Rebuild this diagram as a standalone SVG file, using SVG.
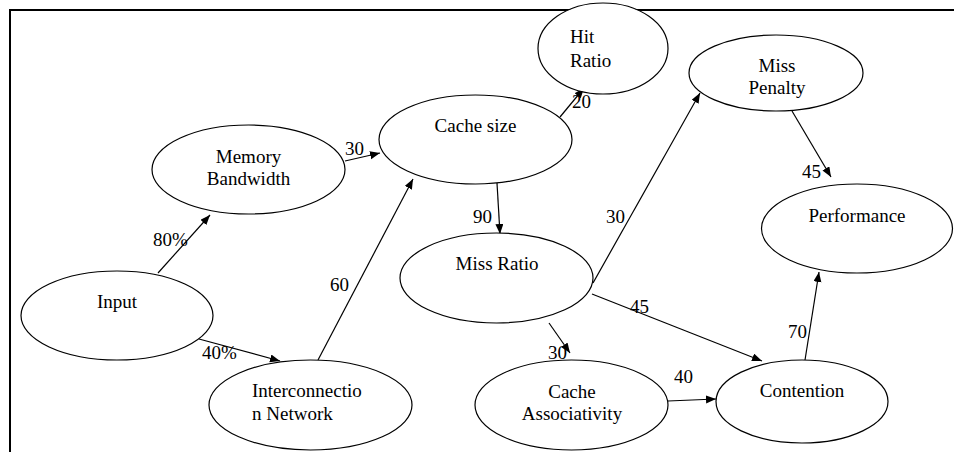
<svg xmlns="http://www.w3.org/2000/svg" width="954" height="452" viewBox="0 0 954 452">
<style>
.n ellipse{fill:#fff;stroke:#000;stroke-width:1.2}
text{font-family:"Liberation Serif","Times New Roman",serif;font-size:19px;fill:#000}
.c{text-anchor:middle}
#edges line{stroke:#000;stroke-width:1.2;marker-end:url(#ah)}
</style>
<defs>
<marker id="ah" markerUnits="userSpaceOnUse" markerWidth="11" markerHeight="9" refX="10" refY="4" orient="auto">
<path d="M0,0 L10,4 L0,8 z" fill="#000"/>
</marker>
</defs>
<rect width="954" height="452" fill="#fff"/>
<path d="M10,452 V10 H954" fill="none" stroke="#000" stroke-width="2"/>
<g id="edges">
<line x1="158" y1="273" x2="210" y2="215"/>
<line x1="199" y1="339" x2="280" y2="361"/>
<line x1="318" y1="360" x2="413" y2="179"/>
<line x1="345" y1="161" x2="380" y2="153"/>
<line x1="560" y1="117" x2="584" y2="88"/>
<line x1="497" y1="183" x2="500" y2="234"/>
<line x1="593" y1="283" x2="700" y2="93"/>
<line x1="792" y1="111" x2="831" y2="177"/>
<line x1="592" y1="294" x2="762" y2="361"/>
<line x1="549" y1="323" x2="570" y2="353"/>
<line x1="668" y1="401" x2="716" y2="399"/>
<line x1="805" y1="360" x2="819" y2="272"/>
<text x="153" y="246">80%</text>
<text x="202" y="359">40%</text>
<text x="330" y="291">60</text>
<text x="345" y="155">30</text>
<text x="572" y="108">20</text>
<text x="473" y="223">90</text>
<text x="606" y="223">30</text>
<text x="802" y="178">45</text>
<text x="630" y="313">45</text>
<text x="548" y="359">30</text>
<text x="674" y="383">40</text>
<text x="788" y="338">70</text>
</g>
<g id="memory-bandwidth" class="n"><ellipse cx="248.5" cy="169.5" rx="96.5" ry="44.5"/><text class="c" x="248.5" y="163">Memory</text><text class="c" x="248.5" y="185">Bandwidth</text></g>
<g id="cache-size" class="n"><ellipse cx="475.5" cy="139.5" rx="96.5" ry="44.5"/><text class="c" x="475.5" y="132">Cache size</text></g>
<g id="hit-ratio" class="n"><ellipse cx="603" cy="48.5" rx="65" ry="45.5"/><text x="570" y="43">Hit</text><text x="570" y="67">Ratio</text></g>
<g id="miss-penalty" class="n"><ellipse cx="776" cy="73" rx="87" ry="38"/><text class="c" x="777" y="72">Miss</text><text class="c" x="777" y="94">Penalty</text></g>
<g id="performance" class="n"><ellipse cx="857" cy="228.5" rx="95.5" ry="44.5"/><text class="c" x="857" y="222">Performance</text></g>
<g id="miss-ratio" class="n"><ellipse cx="496.5" cy="278" rx="96.5" ry="45"/><text class="c" x="497" y="270">Miss Ratio</text></g>
<g id="input" class="n"><ellipse cx="117" cy="315.5" rx="96" ry="44.5"/><text class="c" x="117" y="308">Input</text></g>
<g id="interconnection-network" class="n"><ellipse cx="310.5" cy="405" rx="101.5" ry="45"/><text x="252" y="397">Interconnectio</text><text x="252" y="420">n Network</text></g>
<g id="cache-associativity" class="n"><ellipse cx="571.5" cy="405" rx="96.5" ry="45"/><text class="c" x="572" y="398">Cache</text><text class="c" x="572" y="420">Associativity</text></g>
<g id="contention" class="n"><ellipse cx="802" cy="401.5" rx="86" ry="41.5"/><text class="c" x="802" y="397">Contention</text></g>
</svg>
